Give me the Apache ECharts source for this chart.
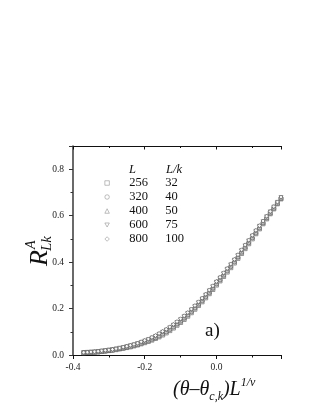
<!DOCTYPE html>
<html>
<head>
<meta charset="utf-8">
<script src="https://cdn.jsdelivr.net/npm/echarts@6/dist/echarts.min.js"></script>
<style>html,body{margin:0;padding:0;background:#fff;}#c{width:312px;height:404px;}</style>
</head>
<body>
<div id="c"></div>
<script>
// ---- data ----
var sizesL = ['256', '320', '400', '600', '800'];
var ratiosLk = ['32', '40', '50', '75', '100'];
var symbols = ['rect', 'circle', 'triangle', 'path://M0,0 L10,0 L5,9 Z', 'diamond'];
var xTicksMajor = [-0.4, -0.2, 0.0];
var yTicksMajor = [0.0, 0.2, 0.4, 0.6, 0.8];

var xVals = [-0.37,-0.36,-0.35,-0.34,-0.33,-0.32,-0.31,-0.30,-0.29,-0.28,-0.27,-0.26,-0.25,-0.24,-0.23,-0.22,-0.21,-0.20,-0.19,-0.18,-0.17,-0.16,-0.15,-0.14,-0.13,-0.12,-0.11,-0.10,-0.09,-0.08,-0.07,-0.06,-0.05,-0.04,-0.03,-0.02,-0.01,0.00,0.01,0.02,0.03,0.04,0.05,0.06,0.07,0.08,0.09,0.10,0.11,0.12,0.13,0.14,0.15,0.16,0.17,0.18];

var y256 = [0.010,0.011,0.011,0.012,0.013,0.015,0.017,0.019,0.021,0.023,0.026,0.029,0.032,0.035,0.039,0.043,0.048,0.053,0.058,0.064,0.071,0.078,0.086,0.095,0.105,0.116,0.128,0.140,0.153,0.167,0.182,0.197,0.213,0.229,0.246,0.264,0.282,0.301,0.319,0.338,0.357,0.376,0.396,0.416,0.437,0.458,0.479,0.500,0.522,0.543,0.565,0.586,0.608,0.629,0.651,0.672];
var y320 = [0.010,0.011,0.012,0.012,0.014,0.015,0.017,0.019,0.021,0.024,0.027,0.030,0.033,0.036,0.040,0.045,0.050,0.055,0.061,0.067,0.074,0.081,0.090,0.099,0.109,0.120,0.132,0.144,0.157,0.171,0.186,0.201,0.217,0.233,0.250,0.268,0.286,0.305,0.323,0.342,0.361,0.380,0.400,0.420,0.441,0.462,0.483,0.504,0.525,0.546,0.568,0.589,0.610,0.631,0.653,0.674];
var y400 = [0.010,0.011,0.012,0.013,0.014,0.016,0.018,0.020,0.022,0.025,0.028,0.031,0.035,0.038,0.042,0.047,0.052,0.058,0.064,0.070,0.077,0.085,0.094,0.103,0.113,0.124,0.136,0.148,0.161,0.175,0.190,0.205,0.221,0.237,0.254,0.272,0.290,0.309,0.327,0.346,0.365,0.384,0.404,0.424,0.445,0.466,0.487,0.508,0.529,0.550,0.571,0.592,0.613,0.634,0.655,0.676];
var y600 = [0.010,0.011,0.012,0.013,0.015,0.017,0.019,0.021,0.023,0.026,0.029,0.032,0.036,0.040,0.044,0.049,0.054,0.060,0.066,0.073,0.080,0.089,0.098,0.107,0.117,0.128,0.140,0.152,0.165,0.179,0.194,0.209,0.225,0.241,0.258,0.276,0.294,0.313,0.331,0.350,0.369,0.388,0.408,0.428,0.449,0.470,0.491,0.512,0.533,0.554,0.574,0.595,0.616,0.637,0.657,0.678];
var y800 = [0.011,0.012,0.013,0.014,0.016,0.018,0.020,0.022,0.024,0.027,0.030,0.034,0.038,0.042,0.046,0.051,0.057,0.063,0.069,0.076,0.084,0.093,0.102,0.111,0.121,0.132,0.144,0.156,0.169,0.183,0.198,0.213,0.229,0.245,0.262,0.280,0.298,0.317,0.335,0.354,0.373,0.392,0.412,0.432,0.453,0.474,0.495,0.516,0.537,0.557,0.577,0.598,0.618,0.639,0.659,0.680];
var ySeries = [y256, y320, y400, y600, y800];

// ---- chart ----
var FONT = 'Liberation Serif';
var chart = echarts.init(document.getElementById('c'), null, {renderer: 'canvas'});

var markerStyle = {color: '#ffffff', borderColor: '#5a5a5a', borderWidth: 0.8};

var series = sizesL.map(function (name, i) {
  return {
    name: name,
    type: 'scatter',
    xAxisIndex: 0,
    yAxisIndex: 0,
    symbol: symbols[i],
    symbolSize: 4,
    itemStyle: markerStyle,
    emphasis: {disabled: true},
    data: xVals.map(function (x, j) { return [x, ySeries[i][j]]; })
  };
});

function isMajor(v, list) {
  for (var k = 0; k < list.length; k++) { if (Math.abs(v - list[k]) < 1e-9) return true; }
  return false;
}

var xMin = -0.4, xMax = 0.18, yMin = 0, yMax = 0.9;

var option = {
  backgroundColor: '#ffffff',
  animation: false,
  textStyle: {fontFamily: FONT},
  grid: {left: 73, right: 31, top: 146, bottom: 49},
  xAxis: [
    {
      type: 'value', min: xMin, max: xMax, interval: 0.2, position: 'bottom',
      axisLine: {show: true, onZero: false, lineStyle: {color: '#111', width: 1}},
      axisTick: {show: true, inside: false, length: 4, lineStyle: {color: '#111', width: 1}},
      axisLabel: {show: true, margin: 7, fontFamily: FONT, fontSize: 9.5, color: '#222',
        formatter: function (v) { return isMajor(v, xTicksMajor) ? v.toFixed(1) : ''; }},
      splitLine: {show: false}
    },
    {
      type: 'value', min: xMin, max: xMax, interval: 0.1, position: 'bottom',
      axisLine: {show: false, onZero: false},
      axisTick: {show: true, inside: false, length: 2.5, lineStyle: {color: '#111', width: 1}},
      axisLabel: {show: false}, splitLine: {show: false}
    },
    {
      type: 'value', min: xMin, max: xMax, interval: 0.2, position: 'top',
      axisLine: {show: true, onZero: false, lineStyle: {color: '#111', width: 1}},
      axisTick: {show: true, inside: true, length: 3.5, lineStyle: {color: '#111', width: 1}},
      axisLabel: {show: false}, splitLine: {show: false}
    },
    {
      type: 'value', min: xMin, max: xMax, interval: 0.1, position: 'top',
      axisLine: {show: false, onZero: false},
      axisTick: {show: true, inside: true, length: 2, lineStyle: {color: '#111', width: 1}},
      axisLabel: {show: false}, splitLine: {show: false}
    }
  ],
  yAxis: [
    {
      type: 'value', min: yMin, max: yMax, interval: 0.2, position: 'left',
      axisLine: {show: true, onZero: false, lineStyle: {color: '#444', width: 1.6}},
      axisTick: {show: true, inside: false, length: 4, lineStyle: {color: '#333', width: 1}},
      axisLabel: {show: true, margin: 9, fontFamily: FONT, fontSize: 9.5, color: '#222',
        formatter: function (v) { return isMajor(v, yTicksMajor) ? v.toFixed(1) : ''; }},
      splitLine: {show: false}
    },
    {
      type: 'value', min: yMin, max: yMax, interval: 0.1, position: 'left',
      axisLine: {show: false, onZero: false},
      axisTick: {show: true, inside: false, length: 2.5, lineStyle: {color: '#333', width: 1}},
      axisLabel: {show: false}, splitLine: {show: false}
    }
  ],
  legend: {
    show: true,
    orient: 'vertical',
    left: 104.5,
    top: 176,
    itemWidth: 4.5,
    itemHeight: 4.5,
    itemGap: 0,
    selectedMode: false,
    padding: 0,
    itemStyle: {color: '#ffffff', borderColor: '#8a8a8a', borderWidth: 0.7},
    data: sizesL.map(function (n, i) { return {name: n, icon: symbols[i]}; }),
    formatter: function (name) {
      var i = sizesL.indexOf(name);
      return '{p|}{a|' + name + '}{b|' + ratiosLk[i] + '}';
    },
    textStyle: {
      fontFamily: FONT, fontSize: 12.5, color: '#111', lineHeight: 14,
      rich: {
        p: {width: 15, lineHeight: 14},
        a: {width: 36, fontFamily: FONT, fontSize: 12.5, color: '#111', lineHeight: 14},
        b: {fontFamily: FONT, fontSize: 12.5, color: '#111', lineHeight: 14}
      }
    }
  },
  graphic: [
    {type: 'text', left: 129, top: 163, silent: true,
      style: {text: 'L', fontFamily: FONT, fontSize: 12.5, fontStyle: 'italic', fill: '#111'}},
    {type: 'text', left: 166, top: 163, silent: true,
      style: {text: 'L/k', fontFamily: FONT, fontSize: 12.5, fontStyle: 'italic', fill: '#111'}},
    {type: 'text', left: 205, top: 322, silent: true,
      style: {text: 'a)', fontFamily: FONT, fontSize: 19, fill: '#111'}},
    {
      type: 'group', x: 40, y: 266, rotation: Math.PI / 2, silent: true,
      children: [
        {type: 'text', x: 0, y: 0, style: {text: 'R', fontFamily: FONT, fontSize: 26, fontStyle: 'italic', fill: '#111', verticalAlign: 'middle', align: 'left'}},
        {type: 'text', x: 17, y: -9, style: {text: 'A', fontFamily: FONT, fontSize: 14, fontStyle: 'italic', fill: '#111', verticalAlign: 'middle', align: 'left'}},
        {type: 'text', x: 15, y: 7, style: {text: 'Lk', fontFamily: FONT, fontSize: 15, fontStyle: 'italic', fill: '#111', verticalAlign: 'middle', align: 'left'}}
      ]
    },
    {
      type: 'text', left: 173, top: 377, silent: true,
      style: {
        text: '{n|(θ–θ}{sub|c,k}{n|)L}{sup|1/ν}',
        rich: {
          n: {fontFamily: FONT, fontSize: 20, fontStyle: 'italic', fill: '#111', lineHeight: 26, verticalAlign: 'middle'},
          sub: {fontFamily: FONT, fontSize: 12, fontStyle: 'italic', fill: '#111', lineHeight: 12, verticalAlign: 'bottom'},
          sup: {fontFamily: FONT, fontSize: 12, fontStyle: 'italic', fill: '#111', lineHeight: 12, verticalAlign: 'top'}
        }
      }
    }
  ],
  series: series
};
chart.setOption(option);
</script>
</body>
</html>
